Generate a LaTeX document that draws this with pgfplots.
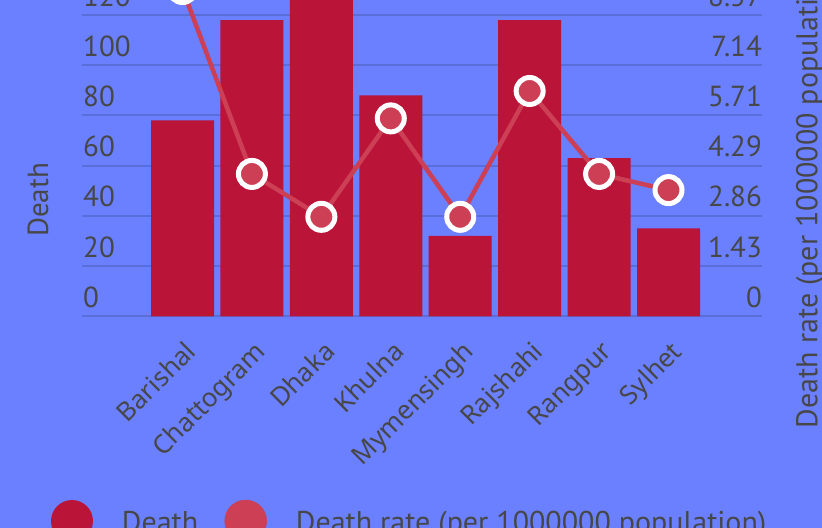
\documentclass[border=0pt]{standalone}
\usepackage{pgfplots}
\pgfplotsset{compat=1.18}
\usepackage{fontspec}
\setmainfont{PT Sans}
\newfontfamily\xfam{Noto Sans}
\definecolor{bgblue}{HTML}{6A80FF}
\definecolor{barred}{HTML}{BA1439}
\definecolor{linered}{HTML}{CC3F55}
\definecolor{gridblue}{HTML}{5A6ED9}
\definecolor{txtgray}{HTML}{474747}
\newcommand\bigf{\fontsize{29bp}{34bp}\selectfont}
\newcommand\legf{\fontsize{30bp}{35bp}\selectfont}
\newcommand\xf{\xfam\fontsize{26bp}{31bp}\selectfont}
\begin{document}
\begin{tikzpicture}
\useasboundingbox (0,0) rectangle (822bp,528bp);
\clip (0,0) rectangle (822bp,528bp);
\fill[bgblue] (0,0) rectangle (822bp,528bp);
\begin{axis}[
  at={(82bp,211.7bp)}, anchor=south west,
  scale only axis, width=680bp, height=351.5bp,
  xmin=-1.4475, xmax=8.3467, ymin=0, ymax=140,
  axis line style={draw=none},
  major tick length=0pt,
  ytick={0,20,...,120},
  ymajorgrids, grid style={gridblue, line width=2bp},
  /pgf/number format/assume math mode=true,
  yticklabel style={anchor=base west, inner sep=0pt, xshift=1bp, yshift=9bp, font=\bigf, text=txtgray},
  xtick={0,...,7},
  xticklabels={Barishal,Chattogram,Dhaka,Khulna,Mymensingh,Rajshahi,Rangpur,Sylhet},
  xticklabel style={xshift=1bp, yshift=-23bp, rotate=45, anchor=north east, inner sep=0pt, font=\xf, text=txtgray},
  ylabel={Death},
  ylabel style={at={(axis description cs:-0.0647,0.331)}, anchor=center, font=\bigf, text=txtgray},
  legend columns=2,
  legend style={draw=none, fill=none, inner sep=0pt, outer sep=0pt,
    at={(axis description cs:-0.0456,-0.5824)}, anchor=west,
    cells={anchor=base west},
    nodes={inner sep=0pt, font=\legf, text=txtgray},
    /tikz/column sep=0pt, /tikz/row sep=0pt},
]
\addplot[ybar, bar width=63bp, fill=barred, draw=none,
  legend image code/.code={\path (0bp,0bp) -- (71bp,0bp); \fill[barred] (21bp,11bp) circle (21bp);}]
  coordinates {(0,78) (1,118) (2,135) (3,88) (4,32) (5,118) (6,63) (7,35)};
\addlegendentry{\makebox[102.5bp][l]{Death}}
\addlegendimage{legend image code/.code={\path (0bp,0bp) -- (71bp,0bp); \fill[linered] (21bp,11bp) circle (21bp);}}
\addlegendentry{Death rate (per 1000000 population)}
\end{axis}
\begin{axis}[
  at={(82bp,211.7bp)}, anchor=south west,
  scale only axis, width=680bp, height=351.5bp,
  xmin=-1.4475, xmax=8.3467, ymin=0, ymax=10,
  axis line style={draw=none},
  major tick length=0pt,
  xtick=\empty,
  ytick={0,1.428571,2.857143,4.285714,5.714286,7.142857,8.571429},
  yticklabels={0,1.43,2.86,4.29,5.71,7.14,8.57},
  yticklabel pos=right,
  yticklabel style={anchor=base east, inner sep=0pt, yshift=9bp, font=\bigf, text=txtgray},
  ylabel={Death rate (per 1000000 population)},
  ylabel style={at={(axis description cs:1.0706,0.351)}, anchor=center, rotate=0, font=\legf, text=txtgray},
  clip=false,
]
\addplot[linered, line width=4.5bp, mark=*, mark size=13.5bp,
  mark options={draw=white, fill=linered, line width=5bp}]
  coordinates {(0,9.31) (1,4.05) (2,2.83) (3,5.63) (4,2.83) (5,6.41) (6,4.05) (7,3.59)};
\end{axis}
\end{tikzpicture}
\end{document}
